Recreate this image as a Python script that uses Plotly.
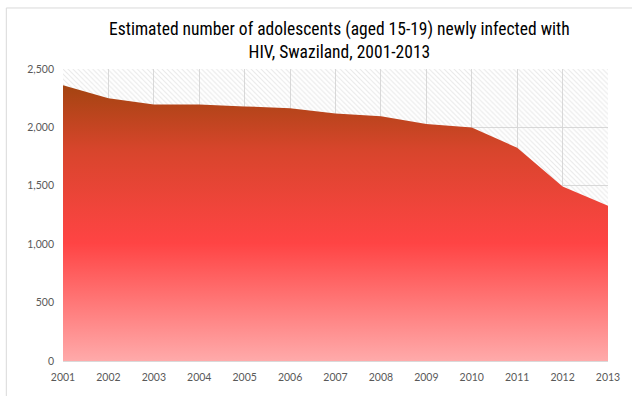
import plotly.graph_objects as go

years = list(range(2001, 2014))
new_infections = [2360, 2250, 2195, 2195, 2180, 2165, 2120, 2095, 2030, 2000, 1825, 1495, 1330]
y_max = 2500
y_ticks = [0, 500, 1000, 1500, 2000, 2500]

title_text = ("Estimated number of adolescents (aged 15-19) newly infected with"
              "<br>HIV, Swaziland, 2001-2013")

title_font = "Roboto Condensed, Liberation Sans Narrow, sans-serif"
tick_font = "Lato, Open Sans, sans-serif"

fig = go.Figure()

# hatched backdrop covering the whole plot area
fig.add_trace(go.Scatter(
    x=years, y=[y_max] * len(years),
    mode="lines", line=dict(width=0),
    fill="tozeroy", fillcolor="rgba(0,0,0,0)",
    fillpattern=dict(shape="\\", fgcolor="#d2d2d2", size=3.5, solidity=0.3),
    hoverinfo="skip", showlegend=False,
))

# gradient-filled area of new infections
fig.add_trace(go.Scatter(
    x=years, y=new_infections,
    mode="lines", line=dict(width=0, color="#A0440F"),
    fill="tozeroy",
    fillgradient=dict(
        type="vertical", start=0, stop=2400,
        colorscale=[[0.0, "#FFAAAA"], [0.42, "#FF4444"], [0.75, "#D8452C"], [1.0, "#A0440F"]],
    ),
    showlegend=False,
))

fig.update_layout(
    width=632, height=396,
    margin=dict(l=63, r=13, t=69, b=35),
    paper_bgcolor="white", plot_bgcolor="white",
    font=dict(family=tick_font, color="#595959", size=10),
    title=dict(
        text=title_text, x=0.537, xanchor="center", y=0.912, yanchor="top",
        font=dict(family=title_font, size=17.5, color="black"),
    ),
    shapes=[dict(type="rect", xref="paper", yref="paper",
                 x0=-0.104, x1=1.2, y0=-0.3, y1=1.209,
                 line=dict(color="#d9d9d9", width=1), layer="below")],
)

fig.update_xaxes(
    range=[years[0], years[-1]], tickmode="array", tickvals=years,
    ticktext=[str(y) for y in years],
    showgrid=True, gridcolor="#d9d9d9", gridwidth=1,
    showline=True, linecolor="#d9d9d9", zeroline=False,
    ticks="", ticklabelstandoff=6, tickfont=dict(size=10.5, color="#595959"),
)
fig.update_yaxes(
    range=[0, y_max], tickmode="array", tickvals=y_ticks,
    ticktext=[f"{v:,}" for v in y_ticks],
    showgrid=True, gridcolor="#d9d9d9", gridwidth=1,
    zeroline=False, showline=False, ticks="", ticklabelstandoff=8,
    tickfont=dict(size=10.5, color="#595959"),
)

fig.write_html("out.html")
